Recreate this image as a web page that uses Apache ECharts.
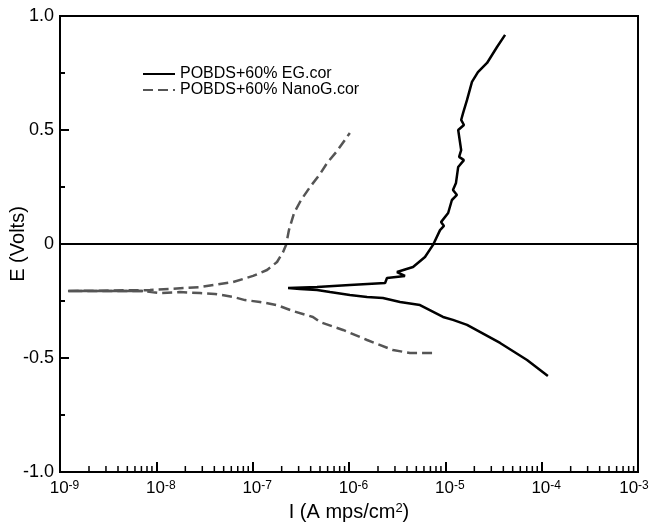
<!DOCTYPE html>
<html><head><meta charset="utf-8">
<script src="https://cdn.jsdelivr.net/npm/echarts@6/dist/echarts.min.js"></script>
<style>html,body{margin:0;padding:0;background:#fff}#c{width:649px;height:522px}</style>
</head><body><div id="c"></div>
<script>
// ---- data ----
const egCurrent = [1.16e-4, 7.05e-5, 3.70e-5, 1.68e-5, 1.20e-5, 9.46e-6, 5.46e-6, 3.39e-6, 2.25e-6, 1.54e-6, 1.02e-6, 6.35e-7, 4.66e-7, 3.10e-7, 2.33e-7,
  4.66e-7, 1.02e-6, 2.37e-6, 2.48e-6, 3.81e-6, 3.15e-6, 4.62e-6, 6.15e-6, 7.45e-6, 8.81e-6, 9.68e-6, 9.02e-6, 1.07e-5, 1.17e-5, 1.32e-5, 1.20e-5, 1.29e-5, 1.36e-5,
  1.56e-5, 1.39e-5, 1.46e-5, 1.36e-5, 1.56e-5, 1.46e-5, 1.53e-5, 1.68e-5, 1.89e-5, 2.18e-5, 2.71e-5, 3.44e-5, 4.17e-5];
const egPotential = [-0.579, -0.509, -0.434, -0.355, -0.333, -0.320, -0.268, -0.254, -0.237, -0.232, -0.224, -0.211, -0.202, -0.197, -0.193,
  -0.189, -0.180, -0.171, -0.149, -0.140, -0.123, -0.101, -0.057, -0.004, 0.061, 0.079, 0.096, 0.136, 0.193, 0.215, 0.237, 0.268, 0.338,
  0.368, 0.382, 0.412, 0.500, 0.522, 0.544, 0.575, 0.632, 0.711, 0.754, 0.794, 0.864, 0.917];

const nanoCurrent = [7.28e-6, 4.29e-6, 2.86e-6, 1.54e-6, 8.67e-7, 5.00e-7, 4.22e-7, 2.62e-7, 1.79e-7, 1.19e-7, 8.32e-8, 6.25e-8, 4.06e-8, 2.84e-8, 1.76e-8, 1.09e-8, 7.28e-9, 1.21e-9,
  8.59e-9, 2.84e-8, 6.25e-8, 1.01e-7, 1.41e-7, 1.79e-7, 2.07e-7, 2.22e-7, 2.38e-7, 2.69e-7, 3.18e-7, 3.94e-7, 5.00e-7, 5.92e-7, 7.52e-7, 1.02e-6];
const nanoPotential = [-0.478, -0.478, -0.465, -0.421, -0.377, -0.342, -0.320, -0.294, -0.268, -0.254, -0.246, -0.232, -0.219, -0.215, -0.211, -0.215, -0.206, -0.206,
  -0.202, -0.189, -0.167, -0.140, -0.114, -0.079, -0.035, -0.004, 0.061, 0.136, 0.193, 0.250, 0.307, 0.355, 0.408, 0.487];
const nanoFlatCurrent = [1.21e-9, 7.28e-9];
const nanoFlatPotential = [-0.206, -0.206];

const seriesNames = ['POBDS+60% EG.cor', 'POBDS+60% NanoG.cor'];
const xDecades = [-9, -8, -7, -6, -5, -4, -3];
const minorMultipliers = [2, 3, 4, 5, 6, 7, 8, 9];
const yTickValues = [-1, -0.5, 0, 0.5, 1];

// ---- build ----
const zip = (a, b) => a.map((v, i) => [v, b[i]]);
const minorTicks = [];
xDecades.slice(0, -1).forEach(d => minorMultipliers.forEach(m => minorTicks.push([m * Math.pow(10, d), yTickValues[0]])));
const lastDecade = xDecades[xDecades.length - 1];

const FONT = 'Liberation Sans, Arial, Helvetica, sans-serif';
const chart = echarts.init(document.getElementById('c'), null, {renderer: 'canvas'});
chart.setOption({
  animation: false,
  backgroundColor: '#fff',
  textStyle: {fontFamily: FONT, color: '#000'},
  grid: {left: 60, right: 11, top: 16, bottom: 50, containLabel: false, outerBoundsMode: 'none',
    show: true, borderColor: '#000', borderWidth: 2, backgroundColor: 'transparent'},
  legend: {
    data: seriesNames, orient: 'vertical', left: 137, top: 61, itemWidth: 32, itemHeight: 14, itemGap: 0,
    itemStyle: {opacity: 0},
    textStyle: {fontFamily: FONT, fontSize: 16, color: '#000', padding: [0, 0, 0, 0]}, selectedMode: false
  },
  xAxis: {
    type: 'log', logBase: 10, min: Math.pow(10, xDecades[0]), max: Math.pow(10, lastDecade), splitNumber: 6,
    axisLine: {onZero: false, lineStyle: {color: '#000', width: 2}},
    axisTick: {inside: true, length: 10, lineStyle: {color: '#000', width: 2}},
    splitLine: {show: false},
    axisLabel: {
      margin: 8, color: '#000', fontFamily: FONT, hideOverlap: false,
      formatter: v => {
        const e = Math.round(Math.log10(v));
        return e === lastDecade ? '{c|10}{t|' + e + '}' : '{b|10}{s|' + e + '}';
      },
      rich: {
        b: {fontSize: 17, fontFamily: FONT, color: '#000', padding: [0, 0, 0, 9]},
        s: {fontSize: 12, fontFamily: FONT, color: '#000', verticalAlign: 'top', lineHeight: 10},
        c: {fontSize: 17, fontFamily: FONT, color: '#000'},
        t: {fontSize: 12, fontFamily: FONT, color: '#000', verticalAlign: 'top', lineHeight: 10, padding: [0, 8, 0, 0]}
      }
    },
    name: '{n|I (A mps/cm}{s|2}{n|)}', nameLocation: 'middle', nameGap: 30, nameMoveOverlap: false,
    nameTextStyle: {rich: {n: {fontSize: 20, fontFamily: FONT, color: '#000'}, s: {fontSize: 13, fontFamily: FONT, color: '#000', verticalAlign: 'top', lineHeight: 11}}}
  },
  yAxis: {
    type: 'value', min: yTickValues[0], max: yTickValues[yTickValues.length - 1], interval: 0.5,
    axisLine: {onZero: false, lineStyle: {color: '#000', width: 2}},
    axisTick: {inside: true, length: 9, lineStyle: {color: '#000', width: 2}},
    minorTick: {show: true, splitNumber: 2, length: 5, lineStyle: {color: '#000', width: 2}},
    splitLine: {show: false},
    axisLabel: {margin: 6, fontSize: 18, color: '#000', fontFamily: FONT, formatter: v => v === 0 ? '0' : v.toFixed(1)},
    name: 'E (Volts)', nameLocation: 'middle', nameGap: 32, nameMoveOverlap: false,
    nameTextStyle: {fontSize: 20, fontFamily: FONT, color: '#000'}
  },
  series: [
    {
      name: seriesNames[0], type: 'line', data: zip(egCurrent, egPotential), symbol: 'none', z: 3,
      lineStyle: {color: '#000', width: 2.5}, itemStyle: {color: '#000'},
      markLine: {silent: true, symbol: 'none', label: {show: false}, lineStyle: {color: '#000', width: 2, type: 'solid'}, data: [{yAxis: 0}]}
    },
    {
      name: seriesNames[1], type: 'line', data: zip(nanoCurrent, nanoPotential), symbol: 'none', z: 2,
      lineStyle: {color: '#555', width: 2.5, type: [10, 5]}, itemStyle: {color: '#555'}
    },
    {
      name: seriesNames[1], type: 'line', data: zip(nanoFlatCurrent, nanoFlatPotential), symbol: 'none', z: 2,
      lineStyle: {color: '#555', width: 2.5}, itemStyle: {color: '#555'}
    },
    {
      name: 'minorTicks', type: 'custom', data: minorTicks, silent: true, z: 5, clip: false,
      renderItem: (params, api) => {
        const p = api.coord([api.value(0), api.value(1)]);
        return {type: 'line', shape: {x1: p[0], y1: p[1], x2: p[0], y2: p[1] - 6}, style: {stroke: '#000', lineWidth: 1.5}};
      }
    }
  ]
});
</script></body></html>
